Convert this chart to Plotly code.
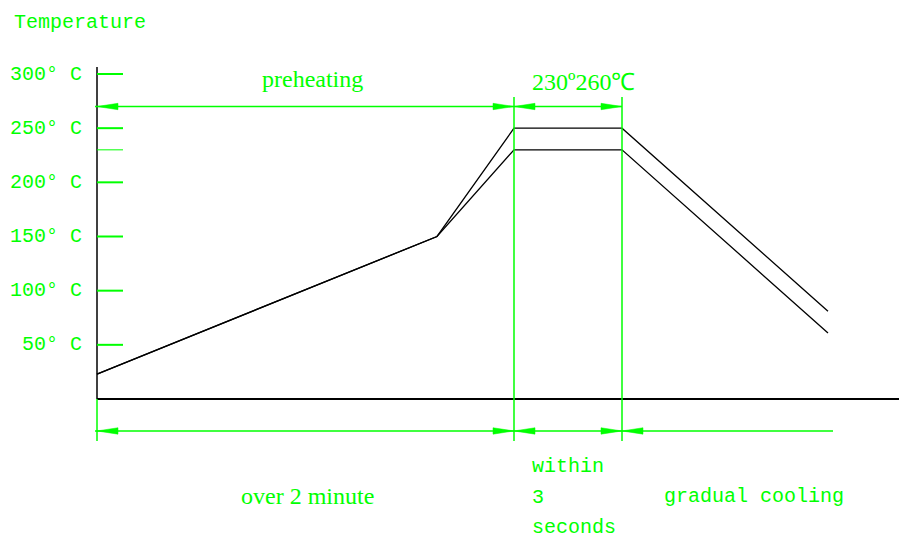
import plotly.graph_objects as go

# ---- data ----
tick_temps = [50, 100, 150, 200, 250, 300]
tick_labels = ["50° C", "100° C", "150° C", "200° C", "250° C", "300° C"]
extra_tick = 230
profile_time = [0, 340, 417, 525, 731]
upper_temp = [23, 150, 250, 250, 81]
lower_temp = [23, 150, 230, 230, 61]
zone_edges = [0, 417, 525]
cooling_end = 736
top_dim_temp = 270
bottom_dim_temp = -29.5

GREEN = "#00FF00"
K = 325 / 300.0          # px per degree
X0, Y0 = 97, 399         # pixel of origin

def px_x(p):
    return p - X0

def px_y(p):
    return (Y0 - p) / K

fig = go.Figure()

for temps in (upper_temp, lower_temp):
    fig.add_trace(go.Scatter(x=profile_time, y=temps, mode="lines",
                             line=dict(color="black", width=1.3),
                             hoverinfo="skip", showlegend=False))

shapes = []
# axes
shapes.append(dict(type="line", x0=0, x1=0, y0=0, y1=px_y(67), line=dict(color="black", width=1.5)))
shapes.append(dict(type="line", x0=0, x1=px_x(899), y0=0, y1=0, line=dict(color="black", width=2)))
# green ticks
for t in tick_temps:
    shapes.append(dict(type="line", x0=0, x1=26, y0=t, y1=t, line=dict(color=GREEN, width=2)))
shapes.append(dict(type="line", x0=0, x1=26, y0=extra_tick, y1=extra_tick, line=dict(color=GREEN, width=1)))
# vertical extension lines
shapes.append(dict(type="line", x0=zone_edges[0], x1=zone_edges[0], y0=0, y1=px_y(441), line=dict(color=GREEN, width=1.5)))
for e in zone_edges[1:]:
    shapes.append(dict(type="line", x0=e, x1=e, y0=px_y(97), y1=px_y(441), line=dict(color=GREEN, width=1.5)))
# dimension lines
shapes.append(dict(type="line", x0=-2, x1=zone_edges[2], y0=top_dim_temp, y1=top_dim_temp, line=dict(color=GREEN, width=1.5)))
shapes.append(dict(type="line", x0=-2, x1=cooling_end, y0=bottom_dim_temp, y1=bottom_dim_temp, line=dict(color=GREEN, width=1.5)))

L, H = 21, 3.2 / K
def head(xtip, y, direction):
    xb = xtip - direction * L
    return dict(type="path", path=f"M {xtip},{y} L {xb},{y + H} L {xb},{y - H} Z",
                fillcolor=GREEN, line=dict(color=GREEN, width=0.5))

for y in (top_dim_temp, bottom_dim_temp):
    shapes.append(head(zone_edges[0], y, -1))
    shapes.append(head(zone_edges[1], y, 1))
    shapes.append(head(zone_edges[1], y, -1))
    shapes.append(head(zone_edges[2], y, 1))
shapes.append(head(zone_edges[2], bottom_dim_temp, -1))

annotations = []
MONO = "Liberation Mono"
SERIF = "Liberation Serif"
MS = 20
annotations.append(dict(x=px_x(12), y=px_y(22), text="Temperature", xanchor="left", yanchor="middle",
                        showarrow=False, font=dict(family=MONO, size=MS, color=GREEN)))
for t, lab in zip(tick_temps, tick_labels):
    annotations.append(dict(x=px_x(84), y=t, text=lab, xanchor="right", yanchor="middle",
                            showarrow=False, font=dict(family=MONO, size=MS, color=GREEN)))
annotations.append(dict(x=px_x(312), y=px_y(79), text="preheating", xanchor="center", yanchor="middle",
                        showarrow=False, font=dict(family=SERIF, size=24, color=GREEN)))
annotations.append(dict(x=px_x(583), y=px_y(82), text="230º260℃", xanchor="center", yanchor="middle",
                        showarrow=False, font=dict(family=SERIF, size=24, color=GREEN)))
annotations.append(dict(x=px_x(307), y=px_y(496), text="over 2 minute", xanchor="center", yanchor="middle",
                        showarrow=False, font=dict(family=SERIF, size=24, color=GREEN)))
for txt, py in (("within", 466), ("3", 497), ("seconds", 527)):
    annotations.append(dict(x=px_x(530), y=px_y(py), text=txt, xanchor="left", yanchor="middle",
                            showarrow=False, font=dict(family=MONO, size=MS, color=GREEN)))
annotations.append(dict(x=px_x(662), y=px_y(496), text="gradual cooling", xanchor="left", yanchor="middle",
                        showarrow=False, font=dict(family=MONO, size=MS, color=GREEN)))

fig.update_layout(
    width=899, height=539,
    margin=dict(l=0, r=0, t=0, b=0),
    paper_bgcolor="white", plot_bgcolor="white",
    xaxis=dict(range=[px_x(0), px_x(899)], visible=False, fixedrange=True),
    yaxis=dict(range=[px_y(539), px_y(0)], visible=False, fixedrange=True),
    shapes=shapes, annotations=annotations, showlegend=False,
)

fig.write_html("out.html", config={"displayModeBar": False},
               post_script="document.body.style.margin='0';document.body.style.overflow='hidden';")
